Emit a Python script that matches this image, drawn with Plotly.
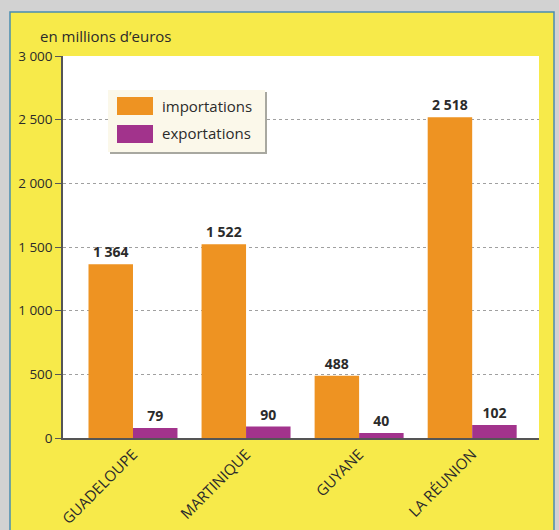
import plotly.graph_objects as go

categories = ["GUADELOUPE", "MARTINIQUE", "GUYANE", "LA RÉUNION"]
importations = [1364, 1522, 488, 2518]
exportations = [79, 90, 40, 102]
series_names = ["importations", "exportations"]
y_ticks = [0, 500, 1000, 1500, 2000, 2500, 3000]
y_title = "en millions d’euros"

ORANGE = "#EE9322"
PURPLE = "#A2338C"
YELLOW = "#F7EA4A"
GRAY = "#D2D2D2"
FONT = "Open Sans"

W, H = 559, 530
L, R, T, B = 63, 20, 56, 92
PW, PH = W - L - R, H - T - B


def px(x):
    return (x - L) / PW


def py(y):
    return (H - B - y) / PH


def fmt(v):
    return f"{v:,}".replace(",", " ")


fig = go.Figure()
for name, vals, col in [(series_names[0], importations, ORANGE),
                        (series_names[1], exportations, PURPLE)]:
    fig.add_trace(go.Bar(
        x=categories, y=vals, name=name, marker=dict(color=col, line=dict(width=0)),
        text=[fmt(v) for v in vals], textposition="outside",
        textfont=dict(family=FONT, size=14, color="#2b2b2b", weight="bold"),
        cliponaxis=False, showlegend=False, hoverinfo="skip",
    ))

shapes = [
    # gray scan margins (top, left, right)
    dict(type="rect", xref="paper", yref="paper", x0=px(-5), x1=px(W + 5), y0=py(12), y1=py(-5),
         fillcolor=GRAY, line=dict(width=0), layer="below"),
    dict(type="rect", xref="paper", yref="paper", x0=px(-5), x1=px(10), y0=py(H + 5), y1=py(-5),
         fillcolor=GRAY, line=dict(width=0), layer="below"),
    dict(type="rect", xref="paper", yref="paper", x0=px(554), x1=px(W + 5), y0=py(H + 5), y1=py(-5),
         fillcolor=GRAY, line=dict(width=0), layer="below"),
    # panel border
    dict(type="rect", xref="paper", yref="paper", x0=px(10), x1=px(554), y0=py(H + 10), y1=py(12),
         fillcolor="rgba(0,0,0,0)", line=dict(color="#4A8DB0", width=1.5), layer="below"),
    # white plot area
    dict(type="rect", xref="paper", yref="paper", x0=0, x1=1, y0=0, y1=1,
         fillcolor="white", line=dict(width=0), layer="below"),
    # legend shadow
    dict(type="rect", xref="paper", yref="paper", x0=px(110), x1=px(267), y0=py(154), y1=py(92),
         fillcolor="#A8A8A0", line=dict(width=0), layer="above"),
    # legend box
    dict(type="rect", xref="paper", yref="paper", x0=px(108), x1=px(265), y0=py(152), y1=py(90),
         fillcolor="#FBF8EA", line=dict(width=0), layer="above"),
    # swatches
    dict(type="rect", xref="paper", yref="paper", x0=px(117), x1=px(153), y0=py(115), y1=py(97),
         fillcolor=ORANGE, line=dict(width=0), layer="above"),
    dict(type="rect", xref="paper", yref="paper", x0=px(117), x1=px(153), y0=py(143), y1=py(125),
         fillcolor=PURPLE, line=dict(width=0), layer="above"),
]

annotations = [
    dict(xref="paper", yref="paper", x=px(160), y=py(106), text=series_names[0], showarrow=False,
         xanchor="left", yanchor="middle", font=dict(family=FONT, size=15, color="#2b2b2b")),
    dict(xref="paper", yref="paper", x=px(160), y=py(133), text=series_names[1], showarrow=False,
         xanchor="left", yanchor="middle", font=dict(family=FONT, size=15, color="#2b2b2b")),
    dict(xref="paper", yref="paper", x=px(38), y=py(36), text=y_title, showarrow=False,
         xanchor="left", yanchor="middle", font=dict(family=FONT, size=15, color="#2b2b2b")),
]

fig.update_layout(
    width=W, height=H,
    margin=dict(l=L, r=R, t=T, b=B, pad=0, autoexpand=False),
    paper_bgcolor=YELLOW, plot_bgcolor="white",
    barmode="group", bargap=0.213, bargroupgap=0,
    separators=", ",
    shapes=shapes, annotations=annotations,
    showlegend=False,
    font=dict(family=FONT, color="#2b2b2b"),
)
fig.update_xaxes(
    range=[-0.619, 3.591], tickangle=-45, showgrid=False, automargin=False,
    showline=True, linecolor="#555555", linewidth=1.5,
    ticks="", tickfont=dict(family=FONT, size=15, color="#2b2b2b"),
)
fig.update_yaxes(
    range=[0, 3000], tickvals=y_ticks, tickformat=",d", automargin=False,
    showgrid=True, gridcolor="#a0a0a0", griddash="dot", gridwidth=1,
    showline=True, linecolor="#555555", linewidth=1.5,
    ticks="outside", ticklen=6, tickcolor="#555555", tickwidth=1.2,
    tickfont=dict(family=FONT, size=13.5, color="#2b2b2b"), zeroline=False,
)

fig.write_html("out.html", config={"displayModeBar": False},
               post_script="document.body.style.margin='0';")
